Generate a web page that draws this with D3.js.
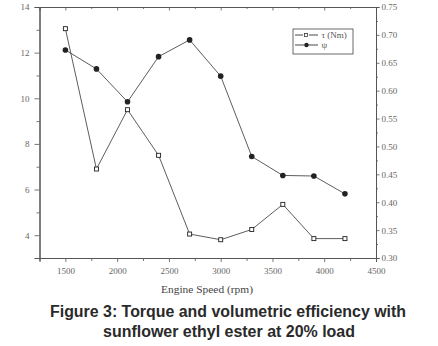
<!DOCTYPE html>
<html>
<head>
<meta charset="utf-8">
<script src="https://cdn.jsdelivr.net/npm/d3@7"></script>
<style>
  body { margin: 0; background: #fff; }
  svg { display: block; }
</style>
</head>
<body>
<div id="container"></div>
<script>
const width = 438;
const height = 346;

const speeds = [1500, 1800, 2100, 2400, 2700, 3000, 3300, 3600, 3900, 4200];
const torque = [13.05, 6.9, 9.5, 7.5, 4.05, 3.8, 4.25, 5.35, 3.85, 3.85];
const psi = [0.673, 0.639, 0.580, 0.661, 0.691, 0.626, 0.482, 0.448, 0.447, 0.415];

const xTicks = [1500, 2000, 2500, 3000, 3500, 4000, 4500];
const yLeftTicks = [4, 6, 8, 10, 12, 14];
const yRightTicks = [0.30, 0.35, 0.40, 0.45, 0.50, 0.55, 0.60, 0.65, 0.70, 0.75];

const plotLeft = 39.5, plotRight = 376, plotTop = 7, plotBottom = 258;
const axisColor = '#555';
const labelColor = '#666';
const serif = '"Liberation Serif", "DejaVu Serif", serif';

const svg = d3.select('#container')
    .append('svg')
    .attr('width', width)
    .attr('height', height);

const xScale = d3.scaleLinear().domain([1250, 4500]).range([plotLeft, plotRight]);
const yLeft = d3.scaleLinear().domain([3, 14]).range([plotBottom, plotTop]);
const yRight = d3.scaleLinear().domain([0.30, 0.75]).range([plotBottom, plotTop]);

function styleAxis(g) {
    g.select('.domain').attr('stroke', axisColor).attr('stroke-width', 1);
    g.selectAll('.tick line').attr('stroke', axisColor).attr('stroke-width', 0.8);
    g.selectAll('.tick text')
        .attr('fill', labelColor)
        .style('font-family', serif)
        .style('font-size', '9px');
}

// minor ticks
const xMinor = d3.range(1750, 4500, 500);
const yLeftMinor = d3.range(5, 14, 2);
const yRightMinor = d3.range(0.325, 0.75, 0.05);

svg.append('g')
    .attr('transform', 'translate(0,' + plotBottom + ')')
    .call(d3.axisBottom(xScale).tickValues(xMinor).tickSize(3).tickFormat(''))
    .call(styleAxis);
svg.append('g')
    .attr('transform', 'translate(0,' + plotBottom + ')')
    .call(d3.axisBottom(xScale).tickValues(xTicks).tickSize(4).tickPadding(6).tickFormat(d3.format('d')))
    .call(styleAxis);

svg.append('g')
    .attr('transform', 'translate(0,' + plotTop + ')')
    .call(d3.axisBottom(xScale).tickValues(xMinor).tickSize(2).tickFormat(''))
    .call(styleAxis);
svg.append('g')
    .attr('transform', 'translate(0,' + plotTop + ')')
    .call(d3.axisBottom(xScale).tickValues(xTicks).tickSize(3.5).tickFormat(''))
    .call(styleAxis);

svg.append('g')
    .attr('transform', 'translate(' + plotLeft + ',0)')
    .call(d3.axisLeft(yLeft).tickValues(yLeftMinor).tickSize(3).tickFormat(''))
    .call(styleAxis);
svg.append('g')
    .attr('transform', 'translate(' + plotLeft + ',0)')
    .call(d3.axisLeft(yLeft).tickValues(yLeftTicks).tickSize(5).tickPadding(5).tickFormat(d3.format('d')))
    .call(styleAxis);

svg.append('g')
    .attr('transform', 'translate(' + plotRight + ',0)')
    .call(d3.axisRight(yRight).tickValues(yRightMinor).tickSize(2).tickFormat(''))
    .call(styleAxis);
svg.append('g')
    .attr('transform', 'translate(' + plotRight + ',0)')
    .call(d3.axisRight(yRight).tickValues(yRightTicks).tickSize(3.5).tickPadding(2).tickFormat(d3.format('.2f')))
    .call(styleAxis);

// series
const torqueData = speeds.map((s, i) => ({ x: s, y: torque[i] }));
const psiData = speeds.map((s, i) => ({ x: s, y: psi[i] }));

svg.append('path')
    .datum(torqueData)
    .attr('fill', 'none')
    .attr('stroke', '#333')
    .attr('stroke-width', 0.8)
    .attr('d', d3.line().x(d => xScale(d.x)).y(d => yLeft(d.y)));

svg.append('path')
    .datum(psiData)
    .attr('fill', 'none')
    .attr('stroke', '#333')
    .attr('stroke-width', 0.8)
    .attr('d', d3.line().x(d => xScale(d.x)).y(d => yRight(d.y)));

svg.selectAll('rect.torque')
    .data(torqueData)
    .enter()
    .append('rect')
    .attr('class', 'torque')
    .attr('x', d => xScale(d.x) - 2)
    .attr('y', d => yLeft(d.y) - 2)
    .attr('width', 4)
    .attr('height', 4)
    .attr('fill', '#fff')
    .attr('stroke', '#222')
    .attr('stroke-width', 0.9);

svg.selectAll('circle.psi')
    .data(psiData)
    .enter()
    .append('circle')
    .attr('class', 'psi')
    .attr('cx', d => xScale(d.x))
    .attr('cy', d => yRight(d.y))
    .attr('r', 2.8)
    .attr('fill', '#222');

// Legend.
const legend = svg.append('g').attr('transform', 'translate(293,29)');
legend.append('rect')
    .attr('width', 60)
    .attr('height', 25)
    .attr('fill', '#fff')
    .attr('stroke', '#444')
    .attr('stroke-width', 0.8);
legend.append('line').attr('x1', 2).attr('x2', 10).attr('y1', 6).attr('y2', 6)
    .attr('stroke', '#333').attr('stroke-width', 0.9);
legend.append('line').attr('x1', 16).attr('x2', 25).attr('y1', 6).attr('y2', 6)
    .attr('stroke', '#333').attr('stroke-width', 0.9);
legend.append('rect').attr('x', 11.5).attr('y', 4.5).attr('width', 3).attr('height', 3)
    .attr('fill', '#fff').attr('stroke', '#333').attr('stroke-width', 0.8);
legend.append('text').attr('x', 28.5).attr('y', 9)
    .attr('fill', '#555')
    .style('font-family', serif).style('font-size', '9px')
    .text('τ (Nm)');
legend.append('line').attr('x1', 2).attr('x2', 25).attr('y1', 16).attr('y2', 16)
    .attr('stroke', '#333').attr('stroke-width', 0.9);
legend.append('circle').attr('cx', 13.5).attr('cy', 16).attr('r', 2.2).attr('fill', '#222');
legend.append('text').attr('x', 28.5).attr('y', 19)
    .attr('fill', '#555')
    .style('font-family', serif).style('font-size', '9px')
    .text('ψ');

// axis title
svg.append('text')
    .attr('x', 161)
    .attr('y', 293)
    .attr('fill', '#444')
    .attr('textLength', 92)
    .attr('lengthAdjust', 'spacingAndGlyphs')
    .style('font-family', serif)
    .style('font-size', '10.5px')
    .text('Engine Speed (rpm)');

// caption
svg.append('text')
    .attr('x', 50)
    .attr('y', 317)
    .attr('fill', '#2a2a2a')
    .attr('textLength', 356)
    .attr('lengthAdjust', 'spacingAndGlyphs')
    .style('font-family', '"Liberation Sans", Arial, sans-serif')
    .style('font-weight', 'bold')
    .style('font-size', '16px')
    .text('Figure 3: Torque and volumetric efficiency with');
svg.append('text')
    .attr('x', 103)
    .attr('y', 336.5)
    .attr('fill', '#2a2a2a')
    .attr('textLength', 252)
    .attr('lengthAdjust', 'spacingAndGlyphs')
    .style('font-family', '"Liberation Sans", Arial, sans-serif')
    .style('font-weight', 'bold')
    .style('font-size', '16px')
    .text('sunflower ethyl ester at 20% load');
</script>
</body>
</html>
